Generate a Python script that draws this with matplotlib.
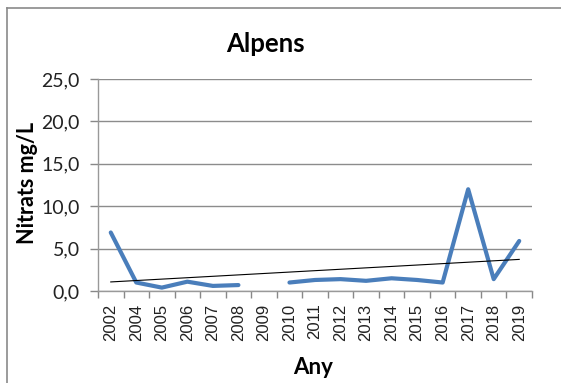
import numpy as np
import matplotlib
matplotlib.use("Agg")
import matplotlib.pyplot as plt
from matplotlib.lines import Line2D

# Nitrats a Alpens (mg/L); 2003 sense dades, 2009 buit
anys = ['2002', '2004', '2005', '2006', '2007', '2008', '2009', '2010', '2011',
        '2012', '2013', '2014', '2015', '2016', '2017', '2018', '2019']
nitrats = [6.9, 1.0, 0.4, 1.1, 0.6, 0.7, np.nan, 1.0, 1.3,
           1.4, 1.2, 1.5, 1.3, 1.0, 12.0, 1.4, 5.9]
y_ticks = [0, 5, 10, 15, 20, 25]

W, H = 561, 383
fig = plt.figure(figsize=(W / 100, H / 100), dpi=100)
ax = fig.add_axes([98 / W, 1 - 291 / H, (532 - 98) / W, (291 - 79) / H])

x = np.arange(len(anys))
y = np.array(nitrats, dtype=float)
ax.plot(x, y, color='#4A7EBB', lw=3.0, solid_joinstyle='round',
        solid_capstyle='round', zorder=3)

# tendència lineal (com la d'Excel, sobre l'índex de categoria)
ok = ~np.isnan(y)
pend, orig = np.polyfit(x[ok] + 1, y[ok], 1)
ax.plot([x[0], x[-1]], [pend * (x[0] + 1) + orig, pend * (x[-1] + 1) + orig],
        color='black', lw=0.8, zorder=4)

ax.set_xlim(-0.5, len(anys) - 0.5)
ax.set_ylim(0, 25)
ax.set_yticks(y_ticks)
ax.set_yticklabels([f"{v:.1f}".replace('.', ',') for v in y_ticks],
                   fontsize=14, family='Lato', color='#222222')
ax.set_xticks(x)
ax.set_xticklabels(anys, rotation=90, fontsize=12, family='Liberation Sans',
                   color='#222222')
ax.set_xticks(np.arange(-0.5, len(anys)), minor=True)
ax.tick_params(axis='x', which='major', length=0, pad=9)
ax.tick_params(axis='x', which='minor', length=5, color='#888888', width=1)
ax.tick_params(axis='y', length=6, color='#888888', width=1, pad=7)

ax.grid(axis='y', color='#8c8c8c', lw=1)
ax.set_axisbelow(True)
for s in ['top', 'right']:
    ax.spines[s].set_visible(False)
for s in ['left', 'bottom']:
    ax.spines[s].set_color('#999999')
    ax.spines[s].set_linewidth(1)

fig.text(265 / W, 1 - 44 / H, 'Alpens', ha='center', va='center',
         fontsize=18.5, fontweight='bold', family='Lato')
fig.text(28 / W, 1 - 183 / H, 'Nitrats mg/L', ha='center', va='center',
         rotation=90, fontsize=15.5, fontweight='bold', family='Lato')
fig.text(313 / W, 1 - 367 / H, 'Any', ha='center', va='center',
         fontsize=16, fontweight='bold', family='Lato')

# marc del gràfic
fig.add_artist(Line2D([7 / W, 7 / W], [0, 1 - 8 / H], color='#8a8a8a', lw=1.2))
fig.add_artist(Line2D([7 / W, 1], [1 - 8 / H, 1 - 8 / H], color='#8a8a8a', lw=1.2))

fig.savefig('out.png', dpi=100)
